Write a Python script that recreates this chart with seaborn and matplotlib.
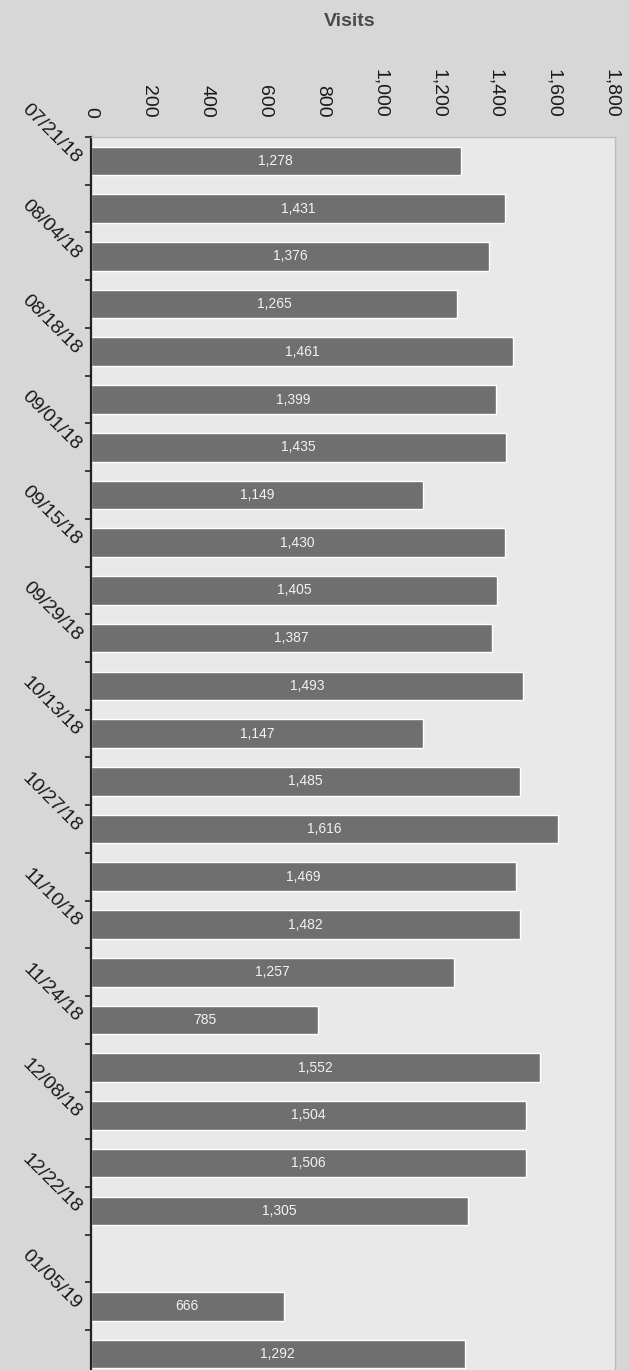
import numpy as np
import pandas as pd
import matplotlib
matplotlib.use('Agg')
import matplotlib.pyplot as plt
import seaborn as sns

# weekly visits, one row per week (12/29/18 has no data)
weeks = ['07/21/18', '07/28/18', '08/04/18', '08/11/18', '08/18/18', '08/25/18',
         '09/01/18', '09/08/18', '09/15/18', '09/22/18', '09/29/18', '10/06/18',
         '10/13/18', '10/20/18', '10/27/18', '11/03/18', '11/10/18', '11/17/18',
         '11/24/18', '12/01/18', '12/08/18', '12/15/18', '12/22/18', '12/29/18',
         '01/05/19', '01/12/19']
visits = [1278, 1431, 1376, 1265, 1461, 1399, 1435, 1149, 1430, 1405, 1387, 1493,
          1147, 1485, 1616, 1469, 1482, 1257, 785, 1552, 1504, 1506, 1305, np.nan,
          666, 1292]
x_ticks = [0, 200, 400, 600, 800, 1000, 1200, 1400, 1600, 1800]

df = pd.DataFrame({'week': weeks, 'visits': visits})

sns.set_theme(style='white')
plt.rcParams['font.family'] = ['Liberation Sans', 'DejaVu Sans']

fig = plt.figure(figsize=(6.29, 13.70), dpi=100, facecolor='#d7d7d7')
ax = fig.add_axes([0.1447, -0.0058, 0.833, 0.9058])
ax.set_facecolor('#e9e9e9')

sns.barplot(data=df, x='visits', y='week', order=weeks, orient='h',
            color='#6f6f6f', saturation=1, width=0.6, ax=ax)

ax.bar_label(ax.containers[0], fmt='{:,.0f}', label_type='center',
             color='#f2f2f2', fontsize=10)

ax.set_xlim(0, 1812)
ax.set_ylim(len(weeks) - 0.5, -0.5)

# value axis on top, labels turned sideways
ax.xaxis.tick_top()
ax.set_xticks(x_ticks)
ax.set_xticklabels([f'{t:,}' for t in x_ticks], rotation=-90, fontsize=14,
                   color='#1a1a1a')
ax.tick_params(axis='x', length=0, pad=14)
ax.set_xlabel('')

# every other week labelled, tick marks between weeks
ax.set_yticks(range(0, len(weeks), 2))
ax.set_yticklabels(weeks[::2], rotation=-45, ha='right', va='center',
                   rotation_mode='anchor', fontsize=14, color='#1a1a1a')
ax.set_yticks(np.arange(-0.5, len(weeks), 1), minor=True)
ax.tick_params(axis='y', which='major', length=0, pad=9)
ax.tick_params(axis='y', which='minor', length=4, width=1.2, color='#222222',
               direction='out', left=True)
ax.set_ylabel('')

for side in ['top', 'right', 'bottom']:
    ax.spines[side].set_color('#bdbdbd')
    ax.spines[side].set_linewidth(1)
ax.spines['left'].set_color('#222222')
ax.spines['left'].set_linewidth(1.6)

fig.text(350 / 629, 1 - 22 / 1370, 'Visits', ha='center', va='center',
         fontsize=14, fontweight='bold', color='#4a4a4a')

fig.savefig('out.png', dpi=100, facecolor=fig.get_facecolor())
